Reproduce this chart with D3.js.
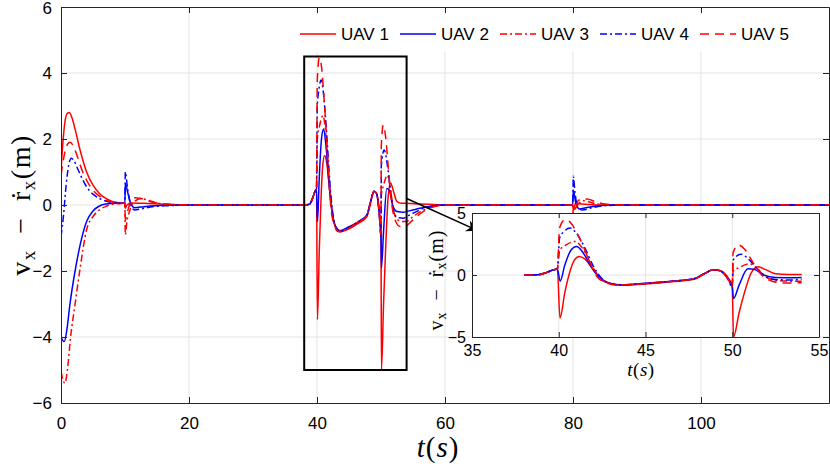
<!DOCTYPE html>
<html><head><meta charset="utf-8">
<script src="https://cdn.jsdelivr.net/npm/d3@7"></script>
<style>
html,body{margin:0;padding:0;background:#fff;}
svg{display:block;}
</style></head>
<body>
<svg id="chart" width="830" height="466"></svg>
<script>
// ---------------- data ----------------
const seriesNames = ["UAV 1","UAV 2","UAV 3","UAV 4","UAV 5"];
const xTicks = [0,20,40,60,80,100];
const yTicks = [-6,-4,-2,0,2,4,6];
const insetXTicks = [35,40,45,50,55];
const insetYTicks = [-5,0,5];
const zoomWindow = [38,54];      // time range shown in the inset
const zoomBoxY = [-5,4.5];       // value range of the zoom rectangle

const uav1 = [[0,1.05],[0.3,1.9],[0.6,2.5],[1.0,2.78],[1.3,2.8],[1.7,2.65],[2.2,2.3],[3,1.65],[4,1.0],[5,0.6],[6,0.35],[7,0.2],[8,0.11],[9,0.07],[9.98,0.05],[10.05,-0.1],[10.3,0.0],[11,0.06],[13,0.05],[16,0.02],[20,0],[38,0],[38.8,0.02],[39.3,0.2],[39.7,0.42],[39.92,0.48],[40.07,-3.47],[40.36,-1.34],[40.65,0.3],[40.9,1.2],[41.18,1.5],[41.5,1.3],[42,0.4],[42.5,-0.35],[43,-0.7],[43.6,-0.82],[45,-0.72],[46.5,-0.55],[47.8,-0.35],[48.4,0.1],[48.9,0.42],[49.3,0.35],[49.7,-0.1],[50.0,-0.9],[50.07,-5.0],[50.4,-3.0],[50.73,-1.3],[51.1,0.2],[51.5,0.67],[51.9,0.45],[52.5,0.1],[53.2,0.05],[54,0.05],[56,0.03],[59,0.01],[62,0],[79.95,0],[80.05,-0.15],[80.4,0.05],[81.5,0.03],[84,0],[120,0]];
const uav2 = [[0,-4.0],[0.5,-4.14],[0.9,-3.8],[1.4,-3.0],[2.2,-2.0],[3,-1.2],[4,-0.5],[5,-0.18],[6,-0.03],[7,0.03],[8.5,0.05],[9.98,0.05],[10.05,0.65],[10.4,0.4],[10.9,0.05],[11.5,-0.08],[13,-0.05],[16,-0.01],[20,0],[38,0],[38.8,0.02],[39.3,0.2],[39.7,0.42],[39.92,0.48],[40.08,-0.5],[40.35,0.8],[40.7,2.0],[41.03,2.3],[41.4,1.8],[41.9,0.6],[42.4,-0.3],[43,-0.68],[43.6,-0.78],[45,-0.66],[46.5,-0.5],[47.8,-0.3],[48.4,0.12],[48.9,0.42],[49.3,0.35],[49.7,-0.2],[50.0,-0.95],[50.07,-1.9],[50.4,-0.8],[50.9,0.5],[51.3,0.45],[51.8,0.0],[52.5,-0.2],[53.5,-0.22],[54,-0.2],[55,-0.15],[57,-0.06],[60,0],[79.95,0],[80.05,0.45],[80.4,0.1],[81,-0.12],[82,-0.08],[84,-0.02],[86,0],[120,0]];
const uav3 = [[0,-5.05],[0.6,-5.4],[1.0,-5.0],[1.5,-4.0],[2.2,-3.0],[3,-1.9],[4,-0.75],[5,-0.35],[6,-0.15],[7,-0.04],[8,0.02],[9,0.04],[9.98,0.05],[10.05,-0.9],[10.3,-0.5],[10.7,-0.2],[11.2,0.05],[12.5,0.2],[13.5,0.15],[15,0.06],[17,0.02],[20,0],[38,0],[38.8,0.02],[39.3,0.2],[39.7,0.42],[39.92,0.48],[40.05,2.0],[40.4,2.4],[40.94,2.71],[41.4,2.1],[41.9,0.8],[42.4,-0.3],[43,-0.7],[43.6,-0.8],[45,-0.68],[46.5,-0.5],[47.8,-0.3],[48.4,0.12],[48.9,0.42],[49.3,0.35],[49.7,-0.2],[50.0,-0.9],[50.05,0.3],[50.4,0.6],[51.0,0.9],[51.5,0.45],[52,-0.2],[52.6,-0.45],[53.5,-0.5],[54,-0.5],[55,-0.35],[57,-0.12],[60,0],[79.95,0],[80.05,-0.3],[80.3,-0.1],[81,0.15],[82,0.12],[83.5,0.04],[86,0],[120,0]];
const uav4 = [[0,-0.96],[0.4,-0.3],[0.8,0.6],[1.2,1.2],[1.6,1.42],[2.0,1.35],[2.6,1.1],[3.3,0.8],[4,0.55],[5,0.33],[6,0.2],[7,0.12],[8,0.07],[9,0.05],[9.98,0.05],[10.05,1.0],[10.4,0.5],[10.9,0.0],[11.5,-0.15],[12.5,-0.12],[14,-0.06],[17,-0.02],[20,0],[38,0],[38.8,0.02],[39.3,0.2],[39.7,0.42],[39.92,0.48],[40.05,3.0],[40.3,3.5],[40.65,3.79],[41.0,3.4],[41.5,2.2],[42,0.7],[42.5,-0.3],[43,-0.7],[43.6,-0.8],[45,-0.68],[46.5,-0.5],[47.8,-0.3],[48.4,0.12],[48.9,0.42],[49.3,0.35],[49.7,-0.2],[50.0,-0.95],[50.05,1.2],[50.5,1.67],[51,1.2],[51.5,0.4],[52,-0.2],[52.6,-0.38],[53.5,-0.4],[54,-0.35],[55,-0.25],[57,-0.08],[60,0],[79.95,0],[80.05,0.87],[80.3,0.4],[80.8,-0.1],[81.5,-0.15],[83,-0.08],[85,-0.02],[88,0],[120,0]];
const uav5 = [[0,0.9],[0.4,1.4],[0.9,1.8],[1.4,1.9],[1.9,1.8],[2.5,1.5],[3.2,1.1],[4,0.75],[5,0.45],[6,0.27],[7,0.15],[8,0.09],[9,0.06],[9.98,0.05],[10.05,-0.45],[10.4,-0.2],[10.9,0.1],[11.6,0.22],[12.5,0.2],[14,0.1],[16,0.04],[20,0],[38,0],[38.8,0.02],[39.3,0.2],[39.7,0.42],[39.92,0.48],[40.05,3.8],[40.36,4.46],[40.7,4.2],[41.0,3.5],[41.42,2.3],[41.8,1.0],[42.19,-0.1],[42.7,-0.6],[43.3,-0.8],[45,-0.7],[46.5,-0.52],[47.8,-0.32],[48.4,0.1],[48.9,0.42],[49.3,0.35],[49.7,-0.2],[50.0,-0.9],[50.05,1.8],[50.35,2.42],[50.7,2.1],[51.2,1.0],[51.7,0.0],[52.3,-0.5],[53,-0.65],[54,-0.62],[55,-0.45],[57,-0.15],[60,0],[79.95,0],[80.05,-0.4],[80.4,-0.1],[81.2,0.1],[82.2,0.18],[83.5,0.1],[85,0.03],[88,0],[120,0]];
const seriesData = [uav1,uav2,uav3,uav4,uav5];

// ---------------- styles ----------------
const colors = ["#ff0000","#0000ff","#ff0000","#0000ff","#ff0000"];
const dashes = [null,null,"7,3,2,3","7,3,2,3","9,6"];
const axisColor = "#262626", gridColor = "#e3e3e3";
const tickFont = '"Liberation Sans",Arial,Helvetica,sans-serif';
const mathFont = '"Liberation Serif","Times New Roman",serif';

const svg = d3.select("#chart");
const defs = svg.append("defs");

// ---------------- main axes ----------------
const M = {l:61,r:829,t:7,b:403};
const x = d3.scaleLinear().domain([0,120]).range([M.l,M.r]);
const y = d3.scaleLinear().domain([-6,6]).range([M.b,M.t]);

defs.append("clipPath").attr("id","clipMain")
  .append("rect").attr("x",M.l).attr("y",M.t).attr("width",M.r-M.l).attr("height",M.b-M.t);

// grid
const grid = svg.append("g");
grid.selectAll(".gx").data(xTicks.filter(d=>d>0)).join("line")
  .attr("x1",d=>x(d)).attr("x2",d=>x(d)).attr("y1",M.t).attr("y2",M.b)
  .attr("stroke",gridColor).attr("stroke-width",1);
grid.selectAll(".gy").data(yTicks.filter(d=>d>-6&&d<6)).join("line")
  .attr("y1",d=>y(d)).attr("y2",d=>y(d)).attr("x1",M.l).attr("x2",M.r)
  .attr("stroke",gridColor).attr("stroke-width",1);

const line = d3.line().x(d=>x(d[0])).y(d=>y(d[1])).curve(d3.curveMonotoneX);
const linesG = svg.append("g").attr("clip-path","url(#clipMain)");
seriesData.forEach((s,i)=>{
  linesG.append("path").datum(s).attr("d",line)
    .attr("fill","none").attr("stroke",colors[i]).attr("stroke-width",1.5)
    .attr("stroke-dasharray",dashes[i]);
});

// axes
function styleAxis(g){
  g.select(".domain").attr("stroke",axisColor).attr("stroke-width",1);
  g.selectAll(".tick line").attr("stroke",axisColor);
  g.selectAll(".tick text").attr("fill","#000");
}
svg.append("g").attr("transform",`translate(0,${M.b})`)
  .call(d3.axisBottom(x).tickValues(xTicks).tickSize(-6).tickPadding(14).tickSizeOuter(0))
  .call(styleAxis).call(g=>g.selectAll("text").attr("font-size",17).attr("font-family",tickFont));
svg.append("g").attr("transform",`translate(0,${M.t})`)
  .call(d3.axisTop(x).tickValues(xTicks).tickSize(-6).tickFormat("").tickSizeOuter(0)).call(styleAxis);
svg.append("g").attr("transform",`translate(${M.l},0)`)
  .call(d3.axisLeft(y).tickValues(yTicks).tickSize(-6).tickPadding(9).tickSizeOuter(0))
  .call(styleAxis).call(g=>g.selectAll("text").attr("font-size",17).attr("font-family",tickFont))
  .call(g=>g.selectAll(".tick text").filter(d=>d===6).attr("dy","0.4em"));
svg.append("g").attr("transform",`translate(${M.r},0)`)
  .call(d3.axisRight(y).tickValues(yTicks).tickSize(-6).tickFormat("").tickSizeOuter(0)).call(styleAxis);

// axis labels
const yl = svg.append("text").attr("transform",`translate(30,${(M.t+M.b)/2}) rotate(-90)`)
  .attr("text-anchor","middle").attr("font-family",mathFont).attr("font-size",28)
  .attr("letter-spacing",1.5).attr("fill","#000");
yl.append("tspan").text("v");
yl.append("tspan").attr("font-size",19).attr("dy",5).text("x");
yl.append("tspan").attr("dy",-5).text("\u2002−\u2002ṙ");
yl.append("tspan").attr("font-size",19).attr("dy",5).text("x");
yl.append("tspan").attr("dy",-5).text("(m)");

const xl = svg.append("text").attr("x",438).attr("y",457).attr("text-anchor","middle")
  .attr("font-family",mathFont).attr("font-size",29).attr("letter-spacing",1).attr("fill","#000");
xl.append("tspan").attr("font-style","italic").text("t");
xl.append("tspan").text("(");
xl.append("tspan").attr("font-style","italic").text("s");
xl.append("tspan").text(")");

// legend
const leg = svg.append("g");
leg.append("rect").attr("x",296).attr("y",15).attr("width",530).attr("height",37).attr("fill","#fff");
seriesNames.forEach((n,i)=>{
  const gx = 300 + i*100;
  leg.append("line").attr("x1",gx).attr("x2",gx+36).attr("y1",34).attr("y2",34)
    .attr("stroke",colors[i]).attr("stroke-width",1.5).attr("stroke-dasharray",dashes[i]);
  leg.append("text").attr("x",gx+41).attr("y",40).attr("font-family",tickFont)
    .attr("font-size",17).attr("fill","#000").text(n);
});

// zoom rectangle
svg.append("rect").attr("x",x(zoomWindow[0])).attr("y",y(zoomBoxY[1]))
  .attr("width",x(zoomWindow[1])-x(zoomWindow[0])).attr("height",y(zoomBoxY[0])-y(zoomBoxY[1]))
  .attr("fill","none").attr("stroke","#000").attr("stroke-width",2);

// ---------------- inset ----------------
const I = {l:472,r:819,t:213,b:337};
const xi = d3.scaleLinear().domain([35,55]).range([I.l,I.r]);
const yi = d3.scaleLinear().domain([-5,5]).range([I.b,I.t]);

// arrow
defs.append("marker").attr("id","arrow").attr("viewBox","0 0 10 10")
  .attr("refX",9).attr("refY",5).attr("orient","auto")
  .attr("markerUnits","userSpaceOnUse").attr("markerWidth",14).attr("markerHeight",12)
  .append("path").attr("d","M0,0 L10,5 L0,10 L3,5 Z").attr("fill","#000");
svg.append("line").attr("x1",x(zoomWindow[1])).attr("y1",y(0.2))
  .attr("x2",xi(35.3)).attr("y2",yi(3.6)).attr("stroke","#000").attr("stroke-width",1.6)
  .attr("marker-end","url(#arrow)");

defs.append("clipPath").attr("id","clipInset")
  .append("rect").attr("x",I.l).attr("y",I.t).attr("width",I.r-I.l).attr("height",I.b-I.t);

const inset = svg.append("g");
inset.append("rect").attr("x",I.l).attr("y",I.t).attr("width",I.r-I.l).attr("height",I.b-I.t).attr("fill","#fff");
inset.selectAll(".igx").data(insetXTicks.slice(1,-1)).join("line")
  .attr("x1",d=>xi(d)).attr("x2",d=>xi(d)).attr("y1",I.t).attr("y2",I.b)
  .attr("stroke",gridColor);
inset.selectAll(".igy").data([0]).join("line")
  .attr("y1",d=>yi(d)).attr("y2",d=>yi(d)).attr("x1",I.l).attr("x2",I.r).attr("stroke",gridColor);

const lineI = d3.line().x(d=>xi(d[0])).y(d=>yi(d[1])).curve(d3.curveMonotoneX);
const insetLines = inset.append("g").attr("clip-path","url(#clipInset)");
seriesData.forEach((s,i)=>{
  const sub = s.filter(d=>d[0]>=zoomWindow[0]&&d[0]<=zoomWindow[1]);
  insetLines.append("path").datum(sub).attr("d",lineI)
    .attr("fill","none").attr("stroke",colors[i]).attr("stroke-width",1.5)
    .attr("stroke-dasharray",dashes[i]);
});

inset.append("g").attr("transform",`translate(0,${I.b})`)
  .call(d3.axisBottom(xi).tickValues(insetXTicks).tickSize(-5).tickPadding(8).tickSizeOuter(0))
  .call(styleAxis).call(g=>g.selectAll("text").attr("font-size",16).attr("font-family",tickFont));
inset.append("g").attr("transform",`translate(0,${I.t})`)
  .call(d3.axisTop(xi).tickValues(insetXTicks).tickSize(-5).tickFormat("").tickSizeOuter(0)).call(styleAxis);
inset.append("g").attr("transform",`translate(${I.l},0)`)
  .call(d3.axisLeft(yi).tickValues(insetYTicks).tickSize(-5).tickPadding(6).tickSizeOuter(0))
  .call(styleAxis).call(g=>g.selectAll("text").attr("font-size",16).attr("font-family",tickFont));
inset.append("g").attr("transform",`translate(${I.r},0)`)
  .call(d3.axisRight(yi).tickValues(insetYTicks).tickSize(-5).tickFormat("").tickSizeOuter(0)).call(styleAxis);

const iyl = inset.append("text").attr("transform",`translate(443,${(I.t+I.b)/2+5}) rotate(-90)`)
  .attr("text-anchor","middle").attr("font-family",mathFont).attr("font-size",20)
  .attr("letter-spacing",1).attr("fill","#000");
iyl.append("tspan").text("v");
iyl.append("tspan").attr("font-size",14).attr("dy",3).text("x");
iyl.append("tspan").attr("dy",-3).text("\u2002−\u2002ṙ");
iyl.append("tspan").attr("font-size",14).attr("dy",3).text("x");
iyl.append("tspan").attr("dy",-3).text("(m)");

const ixl = inset.append("text").attr("x",641).attr("y",376).attr("text-anchor","middle")
  .attr("font-family",mathFont).attr("font-size",19).attr("letter-spacing",0.5).attr("fill","#000");
ixl.append("tspan").attr("font-style","italic").text("t");
ixl.append("tspan").text("(");
ixl.append("tspan").attr("font-style","italic").text("s");
ixl.append("tspan").text(")");
</script>
</body></html>
